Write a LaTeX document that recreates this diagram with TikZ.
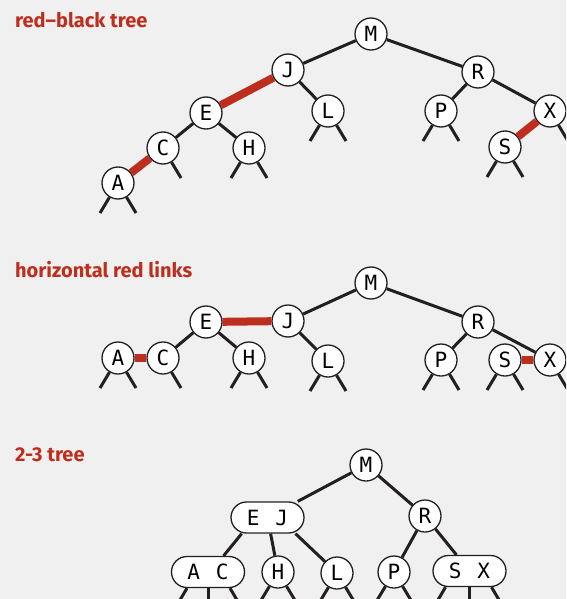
\documentclass[tikz,border=0pt]{standalone}
\usepackage{fontspec}
\newfontfamily\keyfont{DejaVu Sans Mono}
\newfontfamily\headfont{Fira Sans}
\definecolor{redlink}{RGB}{190,46,30}
\definecolor{ink}{RGB}{35,31,32}
\definecolor{paper}{RGB}{240,240,240}
\begin{document}
\begin{tikzpicture}[x=1pt,y=-1pt,
  key/.style={circle,draw=ink,line width=1.3pt,fill=white,minimum size=32pt,inner sep=0pt,
    font=\keyfont\fontsize{21}{21}\selectfont},
  pairkey/.style={rectangle,rounded corners=15.5pt,draw=ink,line width=1.3pt,fill=white,
    minimum width=73pt,minimum height=31pt,inner sep=0pt,font=\keyfont\fontsize{21}{21}\selectfont},
  blk/.style={draw=ink,line width=3pt},
  rlk/.style={draw=redlink,line width=8pt},
  head/.style={anchor=base west,inner sep=0pt,text=redlink,font=\headfont\bfseries\fontsize{20}{20}\selectfont}]
\clip (0,0) rectangle (566,599);
\fill[paper] (0,0) rectangle (566,599);
{
% Titles
\node[head] (h1) at (15,28) {red–black tree};
\node[head] (h2) at (15,277) {horizontal red links};
\node[head] (h3) at (15,461) {2-3 tree};

%%%%%%%% red-black tree
% Marking keys
\node[key] (tM) at (371,34) {M};
\node[key] (tJ) at (288,70) {J};
\node[key] (tR) at (478,72) {R};
\node[key] (tE) at (206,113) {E};
\node[key] (tL) at (328,111) {L};
\node[key] (tP) at (441,111) {P};
\node[key] (tX) at (550,111) {X};
\node[key] (tC) at (163,148) {C};
\node[key] (tH) at (249,148) {H};
\node[key] (tS) at (505,147) {S};
\node[key] (tA) at (118,183) {A};

% Drawing black links
\draw[blk] (tM) -- (tJ);
\draw[blk] (tM) -- (tR);
\draw[blk] (tJ) -- (tL);
\draw[blk] (tE) -- (tC);
\draw[blk] (tE) -- (tH);
\draw[blk] (tR) -- (tP);
\draw[blk] (tR) -- (tX);

% Drawing red links
\draw[rlk] (tJ) -- (tE);
\draw[rlk] (tC) -- (tA);
\draw[rlk] (tX) -- (tS);

% Drawing null links
\draw[blk] (tA) -- ++(-18,30);
\draw[blk] (tA) -- ++(18,30);
\draw[blk] (tC) -- ++(18,30);
\draw[blk] (tH) -- ++(-18,30);
\draw[blk] (tH) -- ++(18,30);
\draw[blk] (tL) -- ++(-18,30);
\draw[blk] (tL) -- ++(18,30);
\draw[blk] (tP) -- ++(-18,30);
\draw[blk] (tP) -- ++(18,30);
\draw[blk] (tS) -- ++(-18,30);
\draw[blk] (tS) -- ++(18,30);
\draw[blk] (tX) -- ++(18,30);

%%%%%%%% horizontal red links
% Marking keys
\node[key] (mM) at (371,283) {M};
\node[key] (mJ) at (288,321) {J};
\node[key] (mR) at (478,322) {R};
\node[key] (mE) at (206,322) {E};
\node[key] (mL) at (328,361) {L};
\node[key] (mP) at (441,360) {P};
\node[key] (mS) at (505,360) {S};
\node[key] (mX) at (550,360) {X};
\node[key] (mA) at (118,358) {A};
\node[key] (mC) at (163,358) {C};
\node[key] (mH) at (249,358) {H};

% Drawing black links
\draw[blk] (mM) -- (mJ);
\draw[blk] (mM) -- (mR);
\draw[blk] (mJ) -- (mL);
\draw[blk] (mE) -- (mC);
\draw[blk] (mE) -- (mH);
\draw[blk] (mR) -- (mP);
\draw[blk] (mR) -- (mX);

% Drawing red links
\draw[rlk] (mJ) -- (mE);
\draw[rlk] (mC) -- (mA);
\draw[rlk] (mX) -- (mS);

% Drawing null links
\draw[blk] (mA) -- ++(-18,30);
\draw[blk] (mA) -- ++(18,30);
\draw[blk] (mC) -- ++(18,30);
\draw[blk] (mH) -- ++(-18,30);
\draw[blk] (mH) -- ++(18,30);
\draw[blk] (mL) -- ++(-18,30);
\draw[blk] (mL) -- ++(18,30);
\draw[blk] (mP) -- ++(-18,30);
\draw[blk] (mP) -- ++(18,30);
\draw[blk] (mS) -- ++(-18,30);
\draw[blk] (mS) -- ++(18,30);
\draw[blk] (mX) -- ++(18,30);

%%%%%%%% 2-3 tree
% Marking keys
\node[key] (bM) at (366,465) {M};
\node[pairkey] (bEJ) at (267.5,517.5) {E\hspace{16pt}J};
\node[key] (bR) at (425,516) {R};
\node[pairkey] (bAC) at (208,572) {A\hspace{16pt}C};
\node[key] (bH) at (278,572) {H};
\node[key] (bL) at (337,573) {L};
\node[key] (bP) at (394,572) {P};
\node[pairkey] (bSX) at (469.5,571) {S\hspace{16pt}X};

% Drawing links
\draw[blk] (bM) -- (bEJ);
\draw[blk] (bM) -- (bR);
\draw[blk] (bEJ.212) -- (bAC.46);
\draw[blk] (bEJ) -- (bH);
\draw[blk] (bEJ.-30) -- (bL);
\draw[blk] (bR) -- (bP);
\draw[blk] (bR) -- (bSX);

% Drawing null links
\draw[blk] ([xshift=-21pt]bAC.south) -- ++(-10,17);
\draw[blk] (bAC.south) -- ++(0,17);
\draw[blk] ([xshift=22pt]bAC.south) -- ++(10,17);
\draw[blk] (bH) -- ++(-18,30);
\draw[blk] (bH) -- ++(18,30);
\draw[blk] (bL) -- ++(-18,30);
\draw[blk] (bL) -- ++(18,30);
\draw[blk] (bP) -- ++(-18,30);
\draw[blk] (bP) -- ++(18,30);
\draw[blk] ([xshift=-24pt]bSX.south) -- ++(-10,17);
\draw[blk] (bSX.south) -- ++(0,17);
\draw[blk] ([xshift=22pt]bSX.south) -- ++(10,17);
}
\end{tikzpicture}
\end{document}
